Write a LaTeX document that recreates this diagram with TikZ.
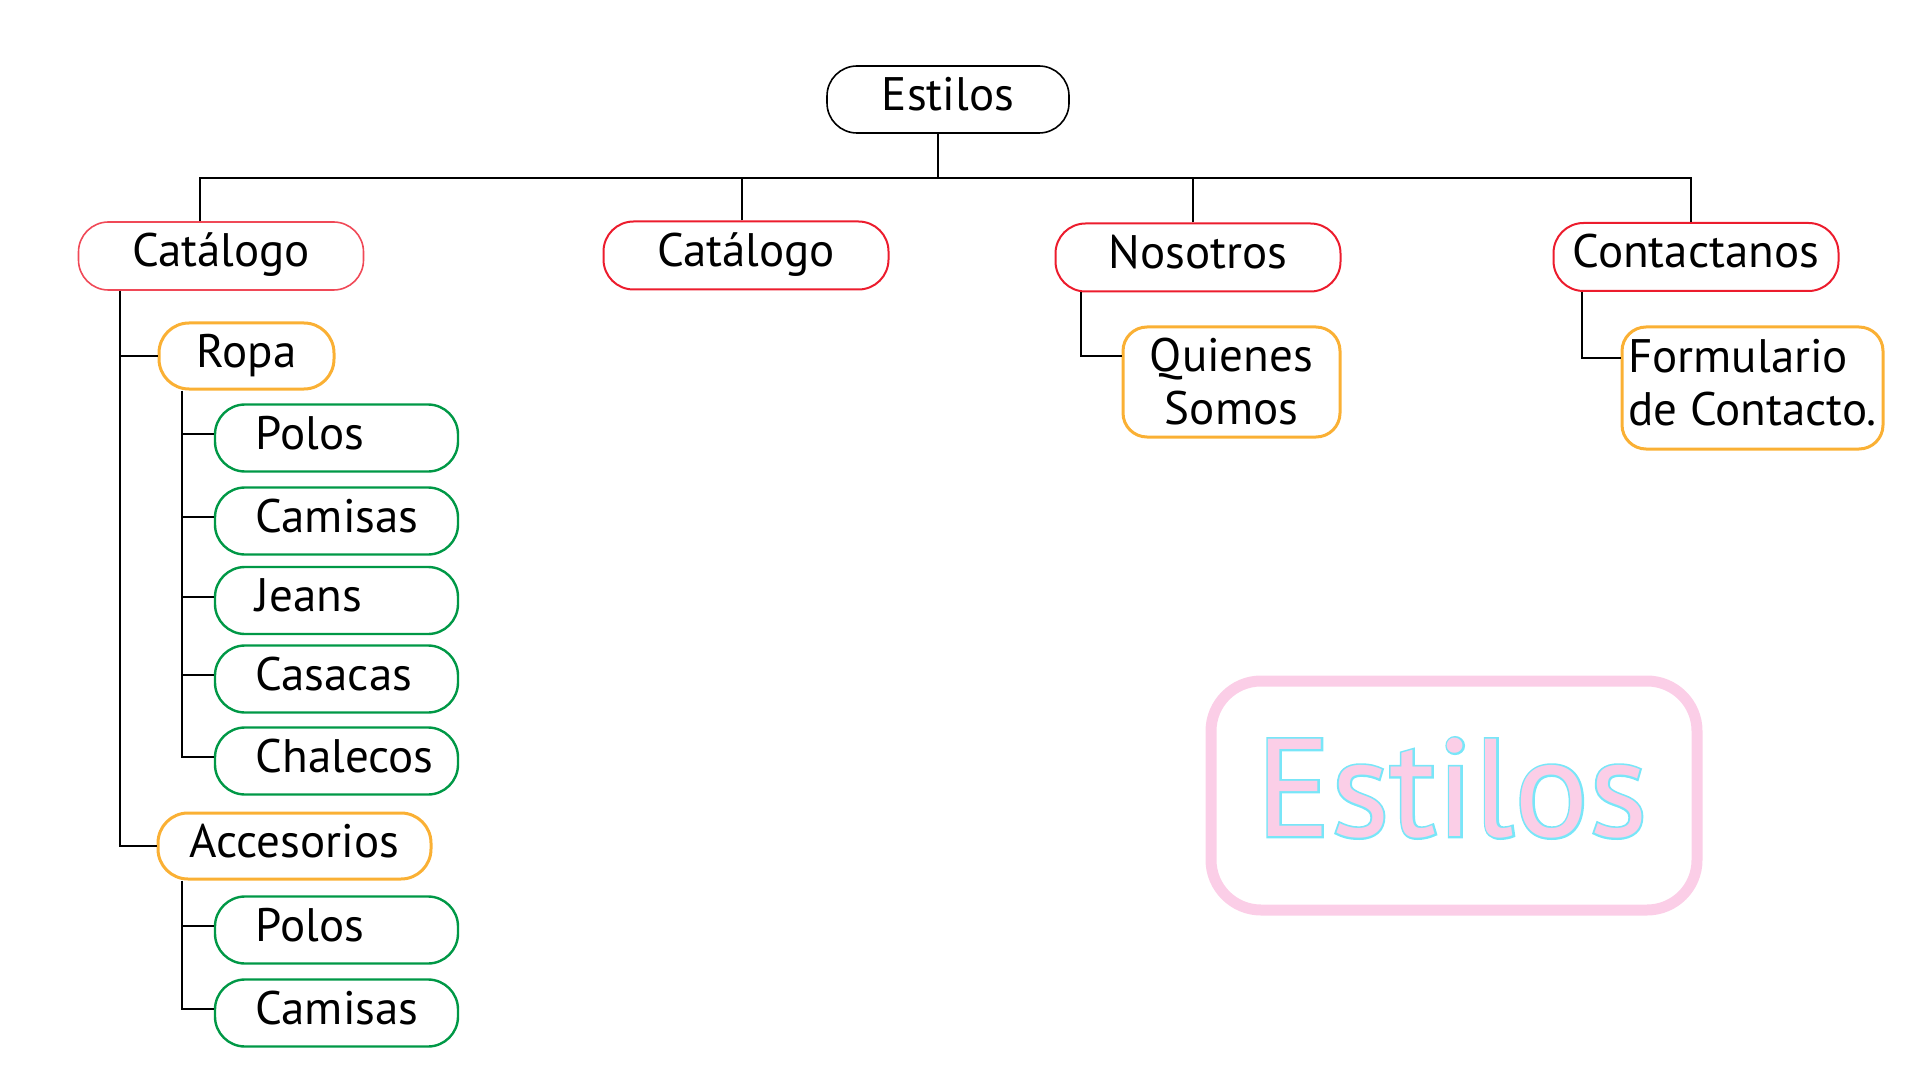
\documentclass[tikz,border=0pt]{standalone}
\usepackage{fontspec}
\setmainfont{PT Sans}
\newfontfamily\logoBorde{PT Sans}[FakeBold=2.8]
\usepackage{tikz}
\usetikzlibrary{positioning, calc}
\definecolor{estRojo}{RGB}{236, 28, 45}
\definecolor{estNaranja}{RGB}{250, 176, 52}
\definecolor{estVerde}{RGB}{0, 152, 70}
\definecolor{estRosa}{RGB}{251, 206, 231}
\definecolor{estCian}{RGB}{120, 230, 248}
\newcommand{\estTexto}{\fontsize{23.5}{26.5}\selectfont}
\newcommand{\logoTexto}{\fontsize{69.5}{80}\selectfont}

\tikzset{
  caja/.style={rectangle, rounded corners=15pt, text=black, font=\estTexto, inner sep=0pt},
  una/.style={text height=17pt, text depth=6pt},
  raiz/.style={caja, una, draw=black, line width=0.8pt, minimum width=121pt, minimum height=33.5pt},
  seccion/.style={caja, una, draw=estRojo, line width=1pt, minimum width=142.5pt, minimum height=34pt},
  grupo/.style={caja, draw=estNaranja, line width=1.5pt, minimum height=33pt},
  item/.style={caja, una, draw=estVerde, line width=1.2pt, minimum width=121.5pt, minimum height=33.5pt,
               text width=81pt, inner xsep=20.25pt, align=left},
  rama/.style={draw=black, line width=1pt},
}

\begin{document}
\begin{tikzpicture}[x=0.5pt, y=-0.5pt]
  \useasboundingbox (0,0) rectangle (1920,1080);

  % raiz y secciones
  \node[raiz] (raiz) at (948,99.5) {Estilos};
  \node[seccion, draw=estRojo!80, line width=0.8pt] (cat1) at (221,256) {Catálogo};
  \node[seccion] (cat2) at (746,255.5) {Catálogo};
  \node[seccion] (nos) at (1198,257.5) {Nosotros};
  \node[seccion] (con) at (1696,257) {Contactanos};

  % catalogo
  \node[grupo, una, minimum width=87.5pt] (ropa) at (246.5,356) {Ropa};
  \node[item] (polos) at (336.5,438) {Polos};
  \node[item] (camisas) at (336.5,521) {Camisas};
  \node[item] (jeans) at (336.5,600.5) {Jeans};
  \node[item] (casacas) at (336.5,679) {Casacas};
  \node[item] (chalecos) at (336.5,761) {Chalecos};
  \node[grupo, una, minimum width=136.5pt] (acc) at (294.5,846) {Accesorios};
  \node[item] (polosb) at (336.5,930) {Polos};
  \node[item] (camisasb) at (336.5,1013) {Camisas};

  % nosotros y contacto
  \node[grupo, minimum width=108.5pt, minimum height=55pt, rounded corners=12pt, align=center] (quienes) at (1231.5,382) {Quienes\\Somos};
  \node[grupo, minimum width=130.5pt, minimum height=61pt, rounded corners=12pt, align=left, inner xsep=3pt, text depth=6pt] (form) at (1752.5,388) {Formulario\\de Contacto.};

  % conectores
  \coordinate (bus) at (0,178);
  \draw[rama] ([xshift=-5pt]raiz.south) -- ([xshift=-5pt]raiz.south |- bus);
  \draw[rama] ([xshift=-10.5pt]cat1.north) |- ([xshift=-2.5pt]con.north |- bus) -- ([xshift=-2.5pt]con.north);
  \draw[rama] ([xshift=-2pt]cat2.north) -- ([xshift=-2pt]cat2.north |- bus);
  \draw[rama] ([xshift=-2.5pt]nos.north) -- ([xshift=-2.5pt]nos.north |- bus);

  \coordinate (tcat) at ([xshift=21pt]cat1.south west);
  \draw[rama] (tcat) |- (acc.west);
  \draw[rama] (ropa.west) -- (ropa.west -| tcat);

  \coordinate (tropa) at ([xshift=12pt]ropa.south west);
  \draw[rama] (tropa) |- ([yshift=2pt]chalecos.west);
  \foreach \n in {polos, camisas, jeans, casacas}
    \draw[rama] ([yshift=2pt]\n.west) -- ([yshift=2pt]\n.west -| tropa);

  \coordinate (tacc) at ([xshift=12.5pt]acc.south west);
  \draw[rama] (tacc) |- ([yshift=2pt]camisasb.west);
  \draw[rama] ([yshift=2pt]polosb.west) -- ([yshift=2pt]polosb.west -| tacc);

  \coordinate (tnos) at ([xshift=13pt]nos.south west);
  \draw[rama] (tnos) |- ([yshift=13pt]quienes.west);
  \coordinate (tcon) at ([xshift=14.5pt]con.south west);
  \draw[rama] (tcon) |- ([yshift=15pt]form.west);

  % logo
  \node[draw=estRosa, line width=5.5pt, rounded corners=25pt, minimum width=243pt, minimum height=114.5pt] (logo) at (1454,795.5) {};
  \node[text=estCian, font=\logoBorde\logoTexto, inner sep=0pt] (logoborde) at (1452,788) {Estilos};
  \node[text=estRosa, font=\logoTexto, inner sep=0pt] (logoletra) at (logoborde.center) {Estilos};
\end{tikzpicture}
\end{document}
